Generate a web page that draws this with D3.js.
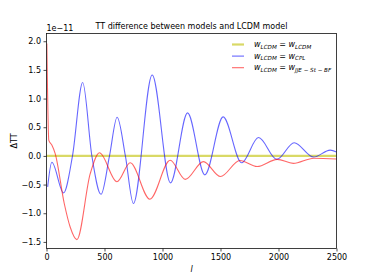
<!DOCTYPE html>
<html>
<head>
  <meta charset="utf-8">
  <title>TT difference</title>
  <script src="https://cdn.jsdelivr.net/npm/d3@7"></script>
  <style>
    body { margin: 0; background: #fff; }
    text { font-family: "DejaVu Sans", sans-serif; fill: #000; }
  </style>
</head>
<body>
<div id="chart"></div>
<script>
  // values in units of 1e-11
  var ellLcdm = [0, 2500];
  var dttLcdm = [0, 0];

  var ellCpl = [10, 46, 147, 224, 312, 391, 470, 543, 609, 680, 749, 911, 1069, 1216, 1365, 1523, 1682, 1828, 1986, 2135, 2302, 2446, 2500];
  var dttCpl = [-0.54, -0.11, -0.645, 0.0, 1.28, 0.0, -0.67, 0.0, 0.675, 0.0, -0.83, 1.41, -0.47, 0.75, -0.33, 0.68, -0.12, 0.32, -0.06, 0.23, -0.02, 0.10, 0.07];

  var ellJje = [3, 20, 46, 75, 153, 204, 262, 377, 457, 607, 722, 891, 1066, 1196, 1353, 1500, 1667, 1816, 1989, 2127, 2305, 2500];
  var dttJje = [1.96, 0.27, 0.19, 0.04, -0.83, -1.24, -1.46, -0.31, 0.055, -0.45, -0.12, -0.755, -0.075, -0.41, -0.10, -0.36, -0.08, -0.185, -0.06, -0.13, -0.04, -0.055];

  var xTicks = [0, 500, 1000, 1500, 2000, 2500];
  var yTicks = [-1.5, -1.0, -0.5, 0.0, 0.5, 1.0, 1.5, 2.0];

  var seriesNames = [["LCDM", "LCDM"], ["LCDM", "CPL"], ["LCDM", "JJE \u2212 St \u2212 BF"]];
  var seriesColors = ["#bfbf00", "#0000ff", "#ff0000"];

  var W = 374, H = 280;
  var margin = { top: 33.5, right: 37.5, bottom: 31.5, left: 46.5 };
  var width = W - margin.left - margin.right;
  var height = H - margin.top - margin.bottom;

  var svg = d3.select("#chart").append("svg")
    .attr("width", W)
    .attr("height", H);

  var g = svg.append("g")
    .attr("transform", "translate(" + margin.left + "," + margin.top + ")");

  var x = d3.scaleLinear().domain([0, 2500]).range([0, width]);
  var y = d3.scaleLinear().domain([-1.615, 2.135]).range([height, 0]);

  var line = d3.line()
    .x(function (d) { return x(d[0]); })
    .y(function (d) { return y(d[1]); })
    .curve(d3.curveMonotoneX);

  var series = [
    d3.zip(ellLcdm, dttLcdm),
    d3.zip(ellCpl, dttCpl),
    d3.zip(ellJje, dttJje)
  ];
  var widths = [2.2, 1.1, 1.1];

  // clip to axes
  g.append("clipPath").attr("id", "clip")
    .append("rect").attr("width", width).attr("height", height);

  series.forEach(function (s, i) {
    g.append("path")
      .datum(s)
      .attr("clip-path", "url(#clip)")
      .attr("d", line)
      .attr("fill", "none")
      .attr("stroke", seriesColors[i])
      .attr("stroke-opacity", 0.6)
      .attr("stroke-width", widths[i]);
  });

  // axes
  var xAxis = d3.axisBottom(x).tickValues(xTicks).tickSize(3).tickPadding(2.5)
    .tickFormat(d3.format("d"));
  var yAxis = d3.axisLeft(y).tickValues(yTicks).tickSize(3).tickPadding(2.5)
    .tickFormat(function (d) { return d3.format(".1f")(d).replace("-", "\u2212"); });

  var gx = g.append("g").attr("transform", "translate(0," + height + ")").call(xAxis);
  var gy = g.append("g").call(yAxis);
  [gx, gy].forEach(function (a) {
    a.select(".domain").remove();
    a.selectAll("line").attr("stroke", "#000").attr("stroke-width", 0.7);
    a.selectAll("text").style("font-size", "8px").style("font-family", "DejaVu Sans");
  });

  // frame
  g.append("rect")
    .attr("width", width).attr("height", height)
    .attr("fill", "none").attr("stroke", "#111").attr("stroke-width", 0.8);

  // title, offset, labels
  svg.append("text")
    .attr("x", margin.left + width / 2).attr("y", 28.5)
    .attr("text-anchor", "middle").style("font-size", "8px")
    .text("TT difference between models and LCDM model");

  svg.append("text")
    .attr("x", margin.left).attr("y", 30.5)
    .style("font-size", "8px")
    .text("1e\u221211");

  svg.append("text")
    .attr("transform", "translate(17," + (margin.top + height / 2) + ") rotate(-90)")
    .attr("text-anchor", "middle").style("font-size", "8px")
    .text("\u0394TT");

  svg.append("text")
    .attr("x", margin.left + width / 2).attr("y", 272)
    .attr("text-anchor", "middle").style("font-size", "8px").style("font-style", "italic")
    .text("l");

  // legend
  var legend = svg.append("g").attr("transform", "translate(232,44.5)");
  seriesNames.forEach(function (n, i) {
    var row = legend.append("g").attr("transform", "translate(0," + (i * 11.6) + ")");
    row.append("line")
      .attr("x1", 0).attr("x2", 12)
      .attr("stroke", seriesColors[i]).attr("stroke-opacity", 0.6)
      .attr("stroke-width", widths[i]);
    var t = row.append("text").attr("x", 22).attr("y", 2.5)
      .style("font-size", "8px").style("font-style", "italic");
    t.append("tspan").text("w");
    t.append("tspan").attr("dy", 1.5).style("font-size", "5.6px").text(n[0]);
    t.append("tspan").attr("dy", -1.5).style("font-style", "normal").text(" = ");
    t.append("tspan").text("w");
    t.append("tspan").attr("dy", 1.5).style("font-size", "5.6px").text(n[1]);
  });
</script>
</body>
</html>
